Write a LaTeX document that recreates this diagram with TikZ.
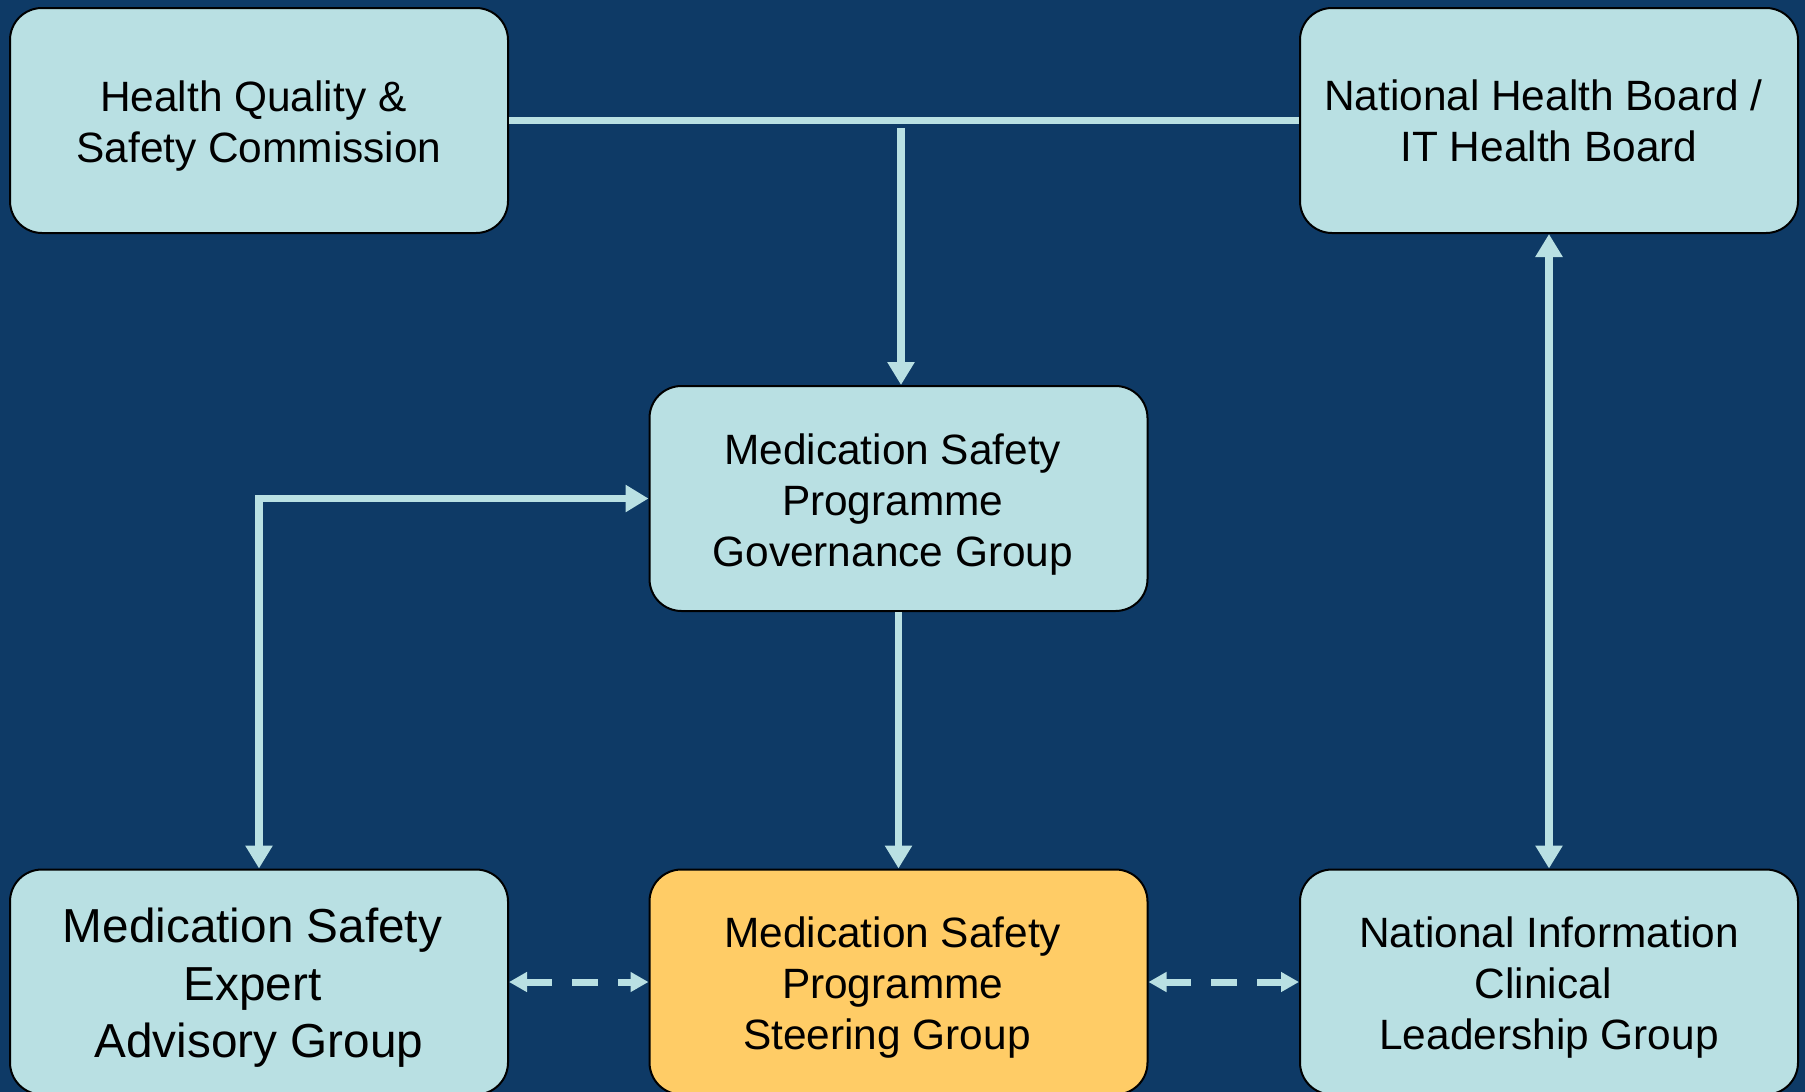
\documentclass[tikz,border=0pt]{standalone}
\usepackage{fontspec}
\setmainfont{Liberation Sans}
\usetikzlibrary{arrows.meta}
\definecolor{bg}{HTML}{0E3A66}
\definecolor{boxfill}{HTML}{B9E0E3}
\definecolor{steerfill}{HTML}{FFCC66}
\definecolor{linecol}{HTML}{B9E0E3}
\newcommand{\tsp}{\kern11.5pt}
\begin{document}
\begin{tikzpicture}[x=1pt,y=-1pt,
  box/.style={draw=black, line width=2pt, fill=boxfill, rounded corners=32pt,
    minimum width=498pt, minimum height=225pt, inner sep=0pt},
  boxtext/.style={inner sep=0pt, align=center, font=\fontsize{42.4}{51}\selectfont},
  bigtext/.style={font=\fontsize{47.7}{57.5}\selectfont},
  conn/.style={draw=linecol, line width=7.5pt},
  headend/.style={-{Triangle[width=26pt,length=23pt]}},
  headboth/.style={{Triangle[width=26pt,length=23pt]}-{Triangle[width=26pt,length=23pt]}},
  dashconn/.style={draw=linecol, line width=7pt, dash pattern=on 26pt off 20pt,
    {Triangle[width=19pt,length=18pt]}-{Triangle[width=19pt,length=18pt]}}
]
\useasboundingbox (0,0) rectangle (1805,1092);
\fill[bg] (0,0) rectangle (1805,1092);
\clip (0,0) rectangle (1805,1092);

\node[box] (hq) at (259,120.5) {};
\node[box] (nhb) at (1549,120.5) {};
\node[box] (gov) at (898.5,498.5) {};
\node[box] (mesag) at (259,982) {};
\node[box,fill=steerfill] (steer) at (898.5,982) {};
\node[box] (nicl) at (1549,982) {};

\node[boxtext] (hqt) at ([yshift=-6pt]hq.center) {Health Quality \&\tsp\\Safety Commission};
\node[boxtext] (nhbt) at (nhb.center) {National Health Board /\tsp\\IT Health Board};
\node[boxtext] (govt) at ([yshift=-6pt]gov.center) {Medication Safety\tsp\\Programme\tsp\\Governance Group\tsp};
\node[boxtext,bigtext] (mesagt) at ([yshift=-6pt]mesag.center) {Medication Safety\kern13pt\\Expert\kern13pt\\Advisory Group};
\node[boxtext] (steert) at ([yshift=-6pt]steer.center) {Medication Safety\tsp\\Programme\tsp\\Steering Group\tsp\tsp};
\node[boxtext] (niclt) at ([yshift=-6pt]nicl.center) {National Information\\Clinical\tsp\\Leadership Group};

\coordinate (j) at (901,128);

\draw[conn] (hq.east) -- (nhb.west);
\draw[conn,headend] (j) -- (j |- gov.north);
\draw[conn,headend] (gov.south) -- (steer.north);
\draw[conn,headboth] (gov.west) -| (mesag.north);
\draw[conn,headboth] (nhb.south) -- (nicl.north);
\draw[dashconn] (mesag.east) -- (steer.west);
\draw[dashconn] (steer.east) -- (nicl.west);
\end{tikzpicture}
\end{document}
